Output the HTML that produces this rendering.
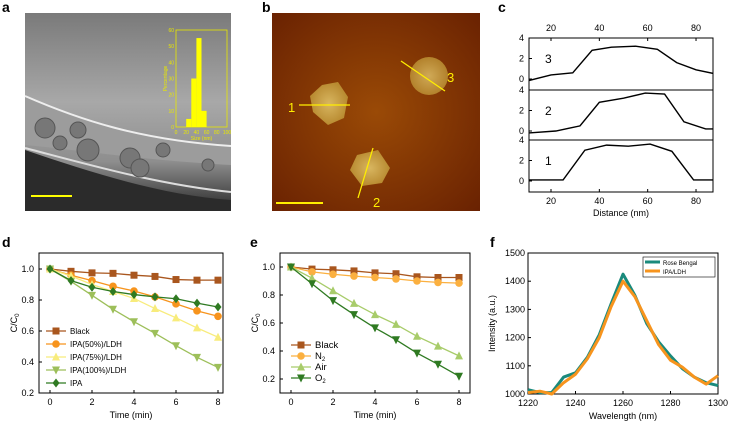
<!DOCTYPE html>
<html><head><meta charset="utf-8"><style>
body{margin:0;background:#fff}
svg{display:block;font-family:"Liberation Sans",sans-serif}
</style></head><body>
<svg id="fig" width="729" height="425" viewBox="0 0 729 425">
<defs>
<linearGradient id="tem" x1="0" y1="0" x2="0" y2="1"><stop offset="0" stop-color="#7a7a7a"/><stop offset="0.45" stop-color="#a8a8a8"/><stop offset="0.75" stop-color="#8e8e8e"/><stop offset="1" stop-color="#2a2a2a"/></linearGradient>
<radialGradient id="afm" cx="0.5" cy="0.5" r="0.7"><stop offset="0" stop-color="#9a4a06"/><stop offset="1" stop-color="#6a2202"/></radialGradient>
<radialGradient id="pt" cx="0.5" cy="0.5" r="0.5"><stop offset="0" stop-color="#d8b660"/><stop offset="1" stop-color="#b88a30"/></radialGradient>
<clipPath id="cclip"><rect x="529" y="38" width="184" height="154"/></clipPath>
</defs>
<g font-weight="bold" font-size="14" fill="#000">
<text x="2" y="12">a</text>
<text x="262" y="12">b</text>
<text x="498" y="12">c</text>
<text x="2" y="247">d</text>
<text x="250" y="247">e</text>
<text x="490" y="247">f</text>
</g>
<!-- panel a -->
<g>
<rect x="25" y="13" width="206" height="198" fill="url(#tem)"/>
<path d="M25,96 C80,120 140,140 231,146 L231,165 C140,160 80,150 25,145Z" fill="#9c9c9c"/>
<path d="M25,96 C80,120 140,140 231,146" stroke="#eee" stroke-width="2" fill="none"/>
<path d="M25,148 C90,165 160,185 231,192" stroke="#ddd" stroke-width="2" fill="none"/>
<path d="M25,150 C90,172 160,195 231,200 L231,211 L25,211Z" fill="#2b2b2b"/>
<g fill="#777" stroke="#555">
<circle cx="45" cy="128" r="10"/><circle cx="78" cy="130" r="8"/><circle cx="88" cy="150" r="11"/><circle cx="130" cy="158" r="10"/><circle cx="140" cy="168" r="9"/><circle cx="163" cy="150" r="7"/><circle cx="208" cy="165" r="6"/><circle cx="60" cy="143" r="7"/>
</g>
<line x1="31" y1="196" x2="72" y2="196" stroke="#ffff00" stroke-width="2"/>
</g>
<g id="inset"></g>
<!-- panel b -->
<g>
<rect x="272" y="13" width="208" height="198" fill="url(#afm)"/>
<polygon points="322,85 338,82 348,97 344,118 328,125 313,112 310,96" fill="url(#pt)"/>
<circle cx="429" cy="76" r="19" fill="url(#pt)" opacity="0.9"/>
<polygon points="357,155 378,150 390,168 382,183 362,186 350,170" fill="url(#pt)"/>
<g stroke="#ffee00" stroke-width="1.3">
<line x1="299" y1="105" x2="350" y2="105"/><line x1="401" y1="61" x2="445" y2="91"/><line x1="373" y1="148" x2="358" y2="198"/><line x1="276" y1="203" x2="323" y2="203" stroke-width="2"/>
</g>
<g fill="#ffee00" font-size="13"><text x="288" y="112">1</text><text x="373" y="207">2</text><text x="447" y="82">3</text></g>
</g>
<g id="pc"></g>
<g id="pd"></g>
<g id="pe"></g>
<g id="pf"></g>
</svg>
<script>
const NS="http://www.w3.org/2000/svg";
function mk(p,t,a,txt){const e=document.createElementNS(NS,t);for(const k in a)e.setAttribute(k,a[k]);if(txt!==undefined)e.textContent=txt;p.appendChild(e);return e;}

// ---- data ----
const histBins=[30,40,50,60];
const histPct=[5,30,55,10];
const profX=[10,20,29,37,45,55,64,72,80,90];
const prof3=[-0.2,0.4,0.6,2.8,3.1,3.2,2.9,1.6,0.9,0.4];
const profX2=[10,22,32,40,50,59,67,75,84,90];
const prof2=[-0.2,0,0.5,2.8,3.2,3.7,3.6,0.9,0.2,0.2];
const profX1=[10,25,34,43,52,61,70,79,88,90];
const prof1=[0.1,0.1,3,3.5,3.4,3.6,2.9,0.1,0.1,0];
const times=[0,1,2,3,4,5,6,7,8];
const dBlack=[1,0.985,0.975,0.972,0.96,0.952,0.932,0.928,0.928];
const dIPA50=[1,0.96,0.925,0.888,0.858,0.82,0.775,0.73,0.695];
const dIPA75=[1,0.955,0.9,0.855,0.81,0.745,0.685,0.62,0.56];
const dIPA100=[1,0.92,0.83,0.74,0.66,0.585,0.505,0.43,0.365];
const dIPA=[1,0.925,0.882,0.855,0.835,0.82,0.808,0.78,0.755];
const eBlack=[1,0.985,0.98,0.972,0.958,0.952,0.93,0.925,0.925];
const eN2=[1,0.965,0.948,0.935,0.925,0.915,0.9,0.89,0.885];
const eAir=[1,0.92,0.83,0.74,0.66,0.59,0.505,0.435,0.365];
const eO2=[1,0.88,0.76,0.66,0.565,0.48,0.385,0.305,0.22];
const wl=[1220,1225,1230,1235,1240,1245,1250,1255,1260,1265,1270,1275,1280,1285,1290,1295,1300];
const rose=[1015,1005,1005,1060,1075,1130,1210,1320,1425,1350,1250,1185,1135,1090,1060,1040,1030];
const ipaldh=[1005,1010,1000,1040,1070,1125,1200,1310,1400,1345,1260,1175,1120,1095,1060,1035,1065];
const ctTicks=[0.2,0.4,0.6,0.8,1.0];
const tTicks=[0,2,4,6,8];

// ---- inset histogram ----
(function(){
 const g=document.getElementById('inset');
 const x0=176,x1=227,y0=30,y1=127;
 const X=v=>x0+v/100*(x1-x0), Y=v=>y1-v/60*(y1-y0);
 mk(g,'rect',{x:x0,y:y0,width:x1-x0,height:y1-y0,fill:'none',stroke:'#e8e800','stroke-width':0.8});
 histBins.forEach((b,i)=>{const r=mk(g,'rect',{x:X(b-10),y:Y(histPct[i]),width:X(10)-X(0),height:y1-Y(histPct[i]),fill:'#ffff00'});
 
 });
 [0,10,20,30,40,50,60].forEach(v=>mk(g,'text',{x:x0-2,y:Y(v)+2,'font-size':5,fill:'#e8e800','text-anchor':'end'},v));
 [0,20,40,60,80,100].forEach(v=>mk(g,'text',{x:X(v),y:y1+7,'font-size':5,fill:'#e8e800','text-anchor':'middle'},v));
 mk(g,'text',{x:X(50),y:y1+13,'font-size':5,fill:'#e8e800','text-anchor':'middle'},'Size (nm)');
 mk(g,'text',{x:0,y:0,'font-size':5,fill:'#e8e800','text-anchor':'middle',transform:`translate(${x0-9},${(y0+y1)/2}) rotate(-90)`},'Percentage');
})();

// ---- panel c ----
(function(){
 const g=document.getElementById('pc');
 const L=529,R=713;
 const X=v=>551+(v-20)*2.417;
 const subs=[{top:38,zero:79,xs:profX,ys:prof3,lab:'3'},{top:90,zero:131,xs:profX2,ys:prof2,lab:'2'},{top:140,zero:181,xs:profX1,ys:prof1,lab:'1'}];
 mk(g,'rect',{x:L,y:38,width:R-L,height:154,fill:'none',stroke:'#000','stroke-width':1});
 mk(g,'line',{x1:L,y1:90,x2:R,y2:90,stroke:'#000','stroke-width':1});
 mk(g,'line',{x1:L,y1:140,x2:R,y2:140,stroke:'#000','stroke-width':1});
 const cg=mk(g,'g',{'clip-path':'url(#cclip)'});
 subs.forEach((s,k)=>{
  const Y=v=>s.zero-v*(s.zero-s.top)/4;
  [0,2,4].forEach(v=>{mk(g,'text',{x:L-5,y:Y(v)+3,'font-size':9,'text-anchor':'end'},v);mk(g,'line',{x1:L,y1:Y(v),x2:L+3,y2:Y(v),stroke:'#000'});});
  const p=mk(cg,'polyline',{points:s.xs.map((x,i)=>X(x)+','+Y(s.ys[i])).join(' '),fill:'none',stroke:'#000','stroke-width':1.4});
  
  
  mk(g,'text',{x:545,y:s.top+25,'font-size':12},s.lab);
 });
 [20,40,60,80].forEach(v=>{mk(g,'text',{x:X(v),y:31,'font-size':9,'text-anchor':'middle'},v);mk(g,'text',{x:X(v),y:204,'font-size':9,'text-anchor':'middle'},v);
  mk(g,'line',{x1:X(v),y1:192,x2:X(v),y2:189,stroke:'#000'});mk(g,'line',{x1:X(v),y1:38,x2:X(v),y2:41,stroke:'#000'});});
 mk(g,'text',{x:(L+R)/2,y:216,'font-size':9,'text-anchor':'middle'},'Distance (nm)');
})();

// ---- line charts ----
function marker(g,type,x,y,c){
 const s=3.5;
 if(type==='sq')return mk(g,'rect',{x:x-s,y:y-s,width:2*s,height:2*s,fill:c});
 if(type==='ci')return mk(g,'circle',{cx:x,cy:y,r:s+0.3,fill:c});
 if(type==='up')return mk(g,'polygon',{points:`${x},${y-s-1} ${x-s-0.5},${y+s} ${x+s+0.5},${y+s}`,fill:c});
 if(type==='dn')return mk(g,'polygon',{points:`${x},${y+s+1} ${x-s-0.5},${y-s} ${x+s+0.5},${y-s}`,fill:c});
 return mk(g,'polygon',{points:`${x},${y-s-1} ${x+s},${y} ${x},${y+s+1} ${x-s},${y}`,fill:c});
}
function lineChart(id,box,xr,yr,yTicks,series,leg){
 const g=document.getElementById(id);
 const X=v=>xr[2]+(v-xr[0])/(xr[1]-xr[0])*(xr[3]-xr[2]);
 const Y=v=>yr[2]-(v-yr[0])/(yr[1]-yr[0])*(yr[2]-yr[3]);
 mk(g,'rect',{x:box[0],y:box[1],width:box[2]-box[0],height:box[3]-box[1],fill:'none',stroke:'#000','stroke-width':1});
 yTicks.forEach(v=>{mk(g,'text',{x:box[0]-5,y:Y(v)+3,'font-size':9,'text-anchor':'end'},v.toFixed(1));mk(g,'line',{x1:box[0],y1:Y(v),x2:box[0]+3,y2:Y(v),stroke:'#000'});});
 tTicks.forEach(v=>{mk(g,'text',{x:X(v),y:box[3]+12,'font-size':9,'text-anchor':'middle'},v);mk(g,'line',{x1:X(v),y1:box[3],x2:X(v),y2:box[3]-3,stroke:'#000'});});
 mk(g,'text',{x:(box[0]+box[2])/2,y:box[3]+25,'font-size':9,'text-anchor':'middle'},'Time (min)');
 const yl=mk(g,'text',{x:0,y:0,'font-size':9,'text-anchor':'middle',transform:`translate(${box[0]-22},${(box[1]+box[3])/2}) rotate(-90)`});
 yl.innerHTML='C/C<tspan font-size="6" dy="2">0</tspan>';
 series.forEach(s=>{
  const p=mk(g,'polyline',{points:times.map((t,i)=>X(t)+','+Y(s.v[i])).join(' '),fill:'none',stroke:s.c,'stroke-width':1.3});
  
  
  times.forEach((t,i)=>{const m=marker(g,s.m,X(t),Y(s.v[i]),s.c);
   
   });
 });
 series.forEach((s,i)=>{const y=leg[1]+i*leg[2];
  const le=mk(g,'g',{});
  
  
  mk(le,'line',{x1:leg[0],y1:y,x2:leg[0]+20,y2:y,stroke:s.c,'stroke-width':1.3});
  marker(le,s.m,leg[0]+10,y,s.c);
  const t=mk(le,'text',{x:leg[0]+24,y:y+3,'font-size':leg[3]});
  t.innerHTML=s.label;
 });
}
lineChart('pd',[39,253,223,393],[0,8,50,218],[0.2,1.0,393,269],ctTicks,[
 {n:'black',label:'Black',v:dBlack,c:'#a9561e',m:'sq'},
 {n:'ipa50',label:'IPA(50%)/LDH',v:dIPA50,c:'#f7941d',m:'ci'},
 {n:'ipa75',label:'IPA(75%)/LDH',v:dIPA75,c:'#f8ec7c',m:'up'},
 {n:'ipa100',label:'IPA(100%)/LDH',v:dIPA100,c:'#9dbf5a',m:'dn'},
 {n:'ipa',label:'IPA',v:dIPA,c:'#2f7a22',m:'di'}],[46,331,13,8]);
lineChart('pe',[280,253,470,393],[0,8,291,459],[0.2,1.0,379,267],ctTicks,[
 {n:'black',label:'Black',v:eBlack,c:'#a9561e',m:'sq'},
 {n:'n2',label:'N<tspan font-size="6" dy="2">2</tspan>',v:eN2,c:'#fbb040',m:'ci'},
 {n:'air',label:'Air',v:eAir,c:'#a8cc6a',m:'up'},
 {n:'o2',label:'O<tspan font-size="6" dy="2">2</tspan>',v:eO2,c:'#2f7a22',m:'dn'}],[291,345,11,9.5]);

// ---- panel f ----
(function(){
 const g=document.getElementById('pf');
 const L=528,R=718,T=253,B=394;
 const X=v=>L+(v-1220)/80*(R-L), Y=v=>B-(v-1000)/500*(B-T);
 mk(g,'rect',{x:L,y:T,width:R-L,height:B-T,fill:'none',stroke:'#000'});
 [1000,1100,1200,1300,1400,1500].forEach(v=>{mk(g,'text',{x:L-3,y:Y(v)+3,'font-size':9,'text-anchor':'end'},v);mk(g,'line',{x1:L,y1:Y(v),x2:L+3,y2:Y(v),stroke:'#000'});});
 [1220,1240,1260,1280,1300].forEach(v=>{mk(g,'text',{x:X(v),y:B+12,'font-size':9,'text-anchor':'middle'},v);mk(g,'line',{x1:X(v),y1:B,x2:X(v),y2:B-3,stroke:'#000'});});
 mk(g,'text',{x:(L+R)/2,y:B+25,'font-size':9,'text-anchor':'middle'},'Wavelength (nm)');
 mk(g,'text',{x:0,y:0,'font-size':9,'text-anchor':'middle',transform:`translate(${L-33},${(T+B)/2}) rotate(-90)`},'Intensity (a.u.)');
 const a=mk(g,'polyline',{points:wl.map((w,i)=>X(w)+','+Y(rose[i])).join(' '),fill:'none',stroke:'#1a8a7c','stroke-width':3,'stroke-linejoin':'round'});
 
 
 const b=mk(g,'polyline',{points:wl.map((w,i)=>X(w)+','+Y(ipaldh[i])).join(' '),fill:'none',stroke:'#f7941d','stroke-width':3,'stroke-linejoin':'round'});
 
 
 const lg=mk(g,'g',{});
 
 
 mk(lg,'rect',{x:643,y:257,width:72,height:20,fill:'#fff',stroke:'#000','stroke-width':0.6});
 mk(lg,'line',{x1:645,y1:262,x2:660,y2:262,stroke:'#1a8a7c','stroke-width':3});
 mk(lg,'line',{x1:645,y1:271,x2:660,y2:271,stroke:'#f7941d','stroke-width':3});
 mk(lg,'text',{x:663,y:265,'font-size':6},'Rose Bengal');
 mk(lg,'text',{x:663,y:274,'font-size':6},'IPA/LDH');
})();
</script>
</body></html>
